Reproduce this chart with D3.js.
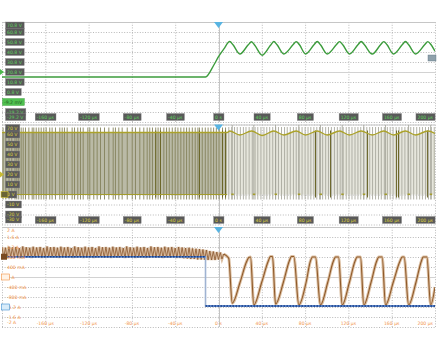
<!DOCTYPE html>
<html>
<head>
<meta charset="utf-8">
<script src="https://cdnjs.cloudflare.com/ajax/libs/d3/7.8.5/d3.min.js"></script>
<style>
body{margin:0;background:#fff;}
svg{display:block;font-family:"DejaVu Sans",sans-serif;}
</style>
</head>
<body>
<svg id="scope" width="438" height="346"></svg>
<script>
// time axis, µs
var timeTicks = [-200,-160,-120,-80,-40,0,40,80,120,160,200];
var timeLabels = ["","-160 µs","-120 µs","-80 µs","-40 µs","0 s","40 µs","80 µs","120 µs","160 µs","200 µs"];

// vertical divisions
var ch1Ticks = [70.8,60.8,50.8,40.8,30.8,20.8,10.8,0.8,-9.2,-19.2,-29.2];
var ch1Labels = ["70.8 V","60.8 V","50.8 V","40.8 V","30.8 V","20.8 V","10.8 V","0.8 V","-9.2 mV","-19.2 V","-29.2 V"];
var ch1RefIndex = 8; // channel reference level, drawn as green tag
var ch2Ticks = [70,60,50,40,30,20,10,0,-10,-20,-30];
var ch2Labels = ["70 V","60 V","50 V","40 V","30 V","20 V","10 V","0 V","-10 V","-20 V","-30 V"];
var ch3Ticks = [2,1.6,1.2,0.8,0.4,0,-0.4,-0.8,-1.2,-1.6,-2];
var ch3Labels = ["2 A","1.6 A","1.2 A","800 mA","400 mA","0 A","-400 mA","-800 mA","-1.2 A","-1.6 A","-2 A"];

// ch1 output voltage [µs, V]
var ch1Wave = [[-200,15.8],[-12,15.8],[-4.3,27.8],[0,36.1],[5,44],[10.4,51.3],[13.4,48],[19.7,38.8],[27.5,48],
  [30.5,51.1],[33.5,47.5],[40.4,37.6],[48,47.5],[51.1,51.3],[54.1,48],[60.3,38.8],[68.8,48],[71.8,51.2],[74.8,48],
  [80.4,38.8],[88.2,48],[91.2,51.3],[94.2,48],[100.4,38.8],[108.8,48],[111.8,51.2],[114.8,48],[121,38.8],
  [128.8,48],[131.8,51.3],[134.8,48],[142,38.8],[149.7,48],[152.7,51.2],[155.7,48],[161.7,38.8],[169.7,48],
  [172.7,51.3],[175.7,48],[182,38.8],[190.4,48],[193.4,51.2],[196.4,48],[200,41.5]];

// ch2 switch node: high level envelope [µs, V] and switching edges (µs)
var ch2Top = [[-200,62],[8,62],[10.4,63.5],[19.7,59.5],[30.5,63.5],[40.4,59],[51.1,63.5],[60.3,59.5],[71.8,63.5],
  [80.4,59.5],[91.2,63.5],[100.4,59.5],[111.8,63.5],[121,59.5],[131.8,63.5],[142,59.5],[152.7,63.5],[161.7,59.5],
  [172.7,63.5],[182,59.5],[193.4,63.5],[200,61]];
var ch2PreEdges = [-199,-196.5,-193.5,-191,-188,-186.3,-184.5,-182.3,-180.4,-178.3,-175.2,-172.1,-170.6,-168.4,-166,
  -163.8,-161.4,-159.2,-155.9,-153.7,-150.6,-146.6,-144.4,-142.3,-139.8,-135.2,-133,-130,-127.5,-125,-120.7,-118.9,
  -115.2,-112.1,-109,-105.3,-101.3,-97.3,-95.2,-92.1,-89,-84.3,-79.7,-76.7,-72.7,-69,-65.9,-63.5,-61,-58,-55.8,-53.6,
  -50.5,-48,-45.5,-42.7,-40,-37.5,-34.8,-32,-29.5,-27,-24.2,-21.5,-19,-17.6,-15,-12.2,-9.6,-7,-4.5,-2,0.5,3.7,6.5];
var ch2PostEdges = [9.5,12.2,14.8,17.3,20.2,23,25.4,28.3,31.2,33.8,36.3,39.2,42,44.6,47.3,50.1,52.8,55.4,58.2,61,
  63.5,66.3,69.2,71.8,74.4,77.2,80,82.7,85.3,88.1,90.8,93.4,96.2,99,101.6,104.3,107.1,109.8,112.4,115.2,118,120.6,
  123.3,126.1,128.8,131.4,134.2,137,139.7,142.3,145.1,147.8,150.4,153.2,156,158.6,161.3,164.1,166.8,169.4,172.2,
  175,177.6,180.3,183.1,185.8,188.4,191.2,194,196.6,199.3];
var ch2DarkEdges = [-58,-53.6,-17.6,3.7,6.5,89.6,103.5,137.7,164.5,166.3,193];
var ch2Spikes = [12.7,32.6,52.7,74.2,94.2,114.3,134.2,154.3,175.6,196];

// ch3 inductor current: pre-trigger ripple samples (A), 1.6 µs apart from -200 µs
var ch3RippleStart = -200, ch3RippleStep = 1.6;
var ch3Ripple = [1.2,0.78,1.17,0.76,1.21,0.8,1.18,0.77,1.2,0.79,
  1.16,0.76,1.22,0.78,1.19,0.8,1.17,0.76,1.21,0.78,
  1.18,0.79,1.2,0.76,1.16,0.78,1.22,0.8,1.19,0.77,
  1.2,0.78,1.17,0.76,1.21,0.79,1.18,0.77,1.2,0.8,
  1.16,0.76,1.22,0.78,1.19,0.8,1.17,0.76,1.21,0.78,
  1.18,0.79,1.2,0.76,1.16,0.78,1.22,0.8,1.19,0.77,
  1.2,0.78,1.17,0.76,1.21,0.79,1.18,0.77,1.2,0.8,
  1.16,0.76,1.22,0.78,1.19,0.8,1.17,0.76,1.21,0.78,
  1.18,0.79,1.2,0.76,1.16,0.78,1.22,0.8,1.19,0.77,
  1.2,0.78,1.17,0.76,1.21,0.79,1.18,0.77,1.2,0.8,
  1.16,0.76,1.2,0.76,1.18,0.75,1.16,0.74,1.17,0.72,
  1.14,0.72,1.13,0.7,1.12,0.7,1.1,0.69,1.08,0.68,
  1.04,0.68,1.02,0.68,1.0,0.7,0.98,0.72,0.92];
// ch3 after trigger [µs, A]
var ch3Post = [[4.8,0.92],[8.5,0.8],[9.5,0.74],[12.7,-1.05],[20,-0.2],[26,0.62],[28,0.78],[29.6,0.8],
  [32.6,-1.12],[40,-0.2],[46,0.64],[48,0.82],[49.9,0.82],[52.7,-1.08],[60,-0.2],[65.4,0.64],[67.4,0.82],[69.6,0.82],
  [74.2,-1.12],[81,-0.2],[84.8,0.62],[86.8,0.8],[89.6,0.8],[94.2,-1.12],[101,-0.2],[106,0.62],[108.1,0.8],[110.9,0.8],
  [114.3,-1.12],[121,-0.2],[126,0.62],[128.1,0.8],[131.2,0.8],[134.2,-1.12],[141,-0.2],[146,0.62],[148.1,0.8],[151.2,0.8],
  [154.3,-1.12],[161.5,-0.2],[167.5,0.62],[169.7,0.8],[171.5,0.8],[175.6,-1.12],[182.5,-0.2],[187.3,0.62],[189.1,0.8],
  [192.5,0.8],[196,-1.12],[200,-0.4]];
// ch4 current
var ch4Wave = [[-200,0.81],[-12,0.81],[-12,-1.16],[200,-1.16]];

var svg = d3.select("#scope");
var x = d3.scaleLinear().domain([-200,200]).range([2,435]);
var y1 = d3.scaleLinear().domain([-29.2,70.8]).range([122,22]);
var y2 = d3.scaleLinear().domain([-30,70]).range([224.5,124.5]);
var y3 = d3.scaleLinear().domain([-2,2]).range([327,227]);

function drawGrid(y, ticks, id){
  var top = y.range()[1], bot = y.range()[0];
  var g = svg.append("g");
  g.append("g").attr("transform","translate("+x.range()[0]+",0)")
    .call(d3.axisRight(y).tickValues(ticks).tickSize(x.range()[1]-x.range()[0]).tickFormat(""))
    .call(function(a){ a.select(".domain").remove();
      a.selectAll("line").attr("stroke","#b9b9b9").attr("stroke-dasharray","1,1.6"); });
  g.append("g").attr("transform","translate(0,"+bot+")")
    .call(d3.axisBottom(x).tickValues(timeTicks).tickSize(-(bot-top)).tickFormat(""))
    .call(function(a){ a.select(".domain").remove();
      a.selectAll("line").attr("stroke","#b9b9b9").attr("stroke-dasharray","1,1.6"); });
  // centre cross + top edge solid
  g.append("line").attr("x1",x(-200)).attr("x2",x(200)).attr("y1",Math.round(y(ticks[5]))+0.5).attr("y2",Math.round(y(ticks[5]))+0.5)
    .attr("stroke","#d2d2d2");
  g.append("line").attr("x1",Math.round(x(0))+0.5).attr("x2",Math.round(x(0))+0.5).attr("y1",top).attr("y2",bot)
    .attr("stroke","#c4c4c4");
  g.append("line").attr("x1",x(-200)).attr("x2",x(200)).attr("y1",top+0.5).attr("y2",top+0.5).attr("stroke","#c6c6c6");
  svg.append("clipPath").attr("id",id).append("rect")
    .attr("x",x(-200)).attr("y",top).attr("width",x(200)-x(-200)).attr("height",bot-top);
}

function trigMark(y){
  var top = y.range()[1], cx = x(0);
  svg.append("path").attr("d","M"+(cx-4.5)+","+top+"L"+(cx+4.5)+","+top+"L"+cx+","+(top+6)+"Z").attr("fill","#58b4e2");
}

function boxText(tx, ty, txt, col, bg, anchor, edge){
  var g = svg.append("g");
  var r = g.append("rect");
  var t = g.append("text").attr("x",tx).attr("y",ty).attr("font-size",4.6).attr("fill",col)
    .attr("text-anchor",anchor||"start").attr("dominant-baseline","central").text(txt);
  if(bg){
    var b = t.node().getBBox();
    r.attr("x",b.x-1.5).attr("y",ty-3.5).attr("width",b.width+3).attr("height",7)
      .attr("fill",bg).attr("stroke",edge||"#8a8a8a").attr("stroke-width",0.4);
  } else r.remove();
  return g;
}

function valueLabels(y, ticks, labels, col, bg, refIndex){
  var top = y.range()[1], bot = y.range()[0];
  ticks.forEach(function(v,i){
    var ly = Math.max(top+3.5, Math.min(bot-5, y(v)));
    if(i === refIndex) boxText(4, ly, labels[i], "#245a24", "#4fc04f", "start", "#3a9a3a");
    else boxText(7, ly, labels[i], col, bg);
  });
}

function timeRow(yc, col, bg){
  timeTicks.forEach(function(t,i){
    if(!timeLabels[i]) return;
    var last = i == timeTicks.length-1;
    boxText(last ? x(t)-2 : x(t), yc, timeLabels[i], col, bg, last ? "end" : "middle");
  });
}

drawGrid(y1,ch1Ticks,"c1");
drawGrid(y2,ch2Ticks,"c2");
drawGrid(y3,ch3Ticks,"c3");

var lineT = d3.line().x(function(d){return x(d[0]);});

// ---- panel 1
svg.append("path").datum(ch1Wave).attr("clip-path","url(#c1)")
  .attr("d", lineT.y(function(d){return y1(d[1]);}).curve(d3.curveMonotoneX))
  .attr("fill","none").attr("stroke","#3c9c3c").attr("stroke-width",1.4);

// ---- panel 2
var p2 = svg.append("g").attr("clip-path","url(#c2)");
var area2 = d3.area().x(function(d){return x(d[0]);}).y0(y2(0)).y1(function(d){return y2(d[1]);});
p2.append("path").datum(ch2Top.filter(function(d){return d[0]<=8;})).attr("d",area2).attr("fill","#babaa6");
p2.append("path").datum(ch2Top.filter(function(d){return d[0]>=8;})).attr("d",area2).attr("fill","#e6e6dc");
p2.selectAll("line.pre").data(ch2PreEdges).enter().append("line")
  .attr("x1",function(d){return x(d);}).attr("x2",function(d){return x(d);})
  .attr("y1",y2(67)).attr("y2",y2(-5)).attr("stroke","#85825c").attr("stroke-width",0.9);
p2.selectAll("line.post").data(ch2PostEdges).enter().append("line")
  .attr("x1",function(d){return x(d);}).attr("x2",function(d){return x(d);})
  .attr("y1",y2(67.5)).attr("y2",y2(-5)).attr("stroke","#a9a99e").attr("stroke-width",0.9);
p2.selectAll("line.dark").data(ch2DarkEdges).enter().append("line")
  .attr("x1",function(d){return x(d);}).attr("x2",function(d){return x(d);})
  .attr("y1",y2(64)).attr("y2",y2(-3)).attr("stroke","#6b6628").attr("stroke-width",1);
p2.selectAll("line.spk").data(ch2Spikes).enter().append("line")
  .attr("x1",function(d){return x(d);}).attr("x2",function(d){return x(d);})
  .attr("y1",y2(69.5)).attr("y2",y2(-5)).attr("stroke","#9f9f96").attr("stroke-width",0.8);
p2.append("path").datum(ch2Top).attr("d", lineT.y(function(d){return y2(d[1]);}).curve(d3.curveMonotoneX))
  .attr("fill","none").attr("stroke","#aba22a").attr("stroke-width",1.4);
p2.append("line").attr("x1",x(-200)).attr("x2",x(8)).attr("y1",y2(0)).attr("y2",y2(0))
  .attr("stroke","#a39c2c").attr("stroke-width",1.1);
p2.selectAll("rect.dot").data(ch2Spikes).enter().append("rect")
  .attr("x",function(d){return x(d)-1;}).attr("y",y2(0)-1).attr("width",2.5).attr("height",1.6).attr("fill","#a39c2c");

// ---- panel 3
var p3 = svg.append("g").attr("clip-path","url(#c3)");
var ripple = ch3Ripple.map(function(v,i){ return [ch3RippleStart + i*ch3RippleStep, v]; });
var l3 = d3.line().x(function(d){return x(d[0]);}).y(function(d){return y3(d[1]);});
p3.append("path").datum(ripple).attr("d",l3).attr("fill","none").attr("stroke","#dcc0a4").attr("stroke-width",3);
p3.append("path").datum(ch3Post).attr("d",l3.curve(d3.curveMonotoneX)).attr("fill","none")
  .attr("stroke","#dcc0a4").attr("stroke-width",3);
p3.append("path").datum(ripple).attr("d",l3.curve(d3.curveLinear)).attr("fill","none").attr("stroke","#8a5830").attr("stroke-width",0.8);
p3.append("path").datum(ch3Post).attr("d",l3.curve(d3.curveMonotoneX)).attr("fill","none")
  .attr("stroke","#8f5a2a").attr("stroke-width",1.1);
l3.curve(d3.curveLinear);
p3.append("path").datum(ch4Wave).attr("d",l3).attr("fill","none")
  .attr("stroke","#9fb3d2").attr("stroke-width",1.6);
[ch4Wave.slice(0,2), ch4Wave.slice(2)].forEach(function(seg){
  p3.append("path").datum(seg).attr("d",l3).attr("fill","none")
    .attr("stroke","#3f72c4").attr("stroke-width",1.6);
  p3.append("path").datum(seg).attr("d",l3).attr("fill","none")
    .attr("stroke","#1b3f86").attr("stroke-width",1.6).attr("stroke-dasharray","1.5,1.5");
});

// ---- trigger marks
trigMark(y1); trigMark(y2); trigMark(y3);

// ---- labels
valueLabels(y1, ch1Ticks, ch1Labels, "#5fd05f", "#595959", ch1RefIndex);
valueLabels(y2, ch2Ticks, ch2Labels, "#dccf3c", "#595959");
valueLabels(y3, ch3Ticks, ch3Labels, "#f2964c", null);
timeRow(117, "#5fd05f", "#595959");
timeRow(220, "#dccf3c", "#595959");
timeRow(323, "#f2964c", null);

// channel markers
svg.append("path").attr("d","M0,"+(y1(20.8)-3)+"L4,"+y1(20.8)+"L0,"+(y1(20.8)+3)+"Z").attr("fill","#4cb84c");
svg.append("rect").attr("x",428).attr("y",55).attr("width",8).attr("height",6)
  .attr("fill","#8fa1ab").attr("stroke","#5d7280").attr("stroke-width",0.4);
svg.append("path").attr("d","M0,"+(y2(20)-3)+"L4,"+y2(20)+"L0,"+(y2(20)+3)+"Z").attr("fill","#c8bb32");
svg.append("rect").attr("x",1).attr("y",y2(0)-3).attr("width",7).attr("height",6)
  .attr("fill","#6a6436").attr("stroke","#d8c838").attr("stroke-width",0.6);
svg.append("rect").attr("x",1).attr("y",y3(0.81)-3).attr("width",6).attr("height",6).attr("fill","#7a4a22");
svg.append("rect").attr("x",1.5).attr("y",y3(0)-3).attr("width",8).attr("height",6)
  .attr("fill","#fff3e6").attr("stroke","#f09040").attr("stroke-width",0.6);
svg.append("rect").attr("x",1.5).attr("y",y3(-1.2)-3).attr("width",8).attr("height",6)
  .attr("fill","#d8ecfa").attr("stroke","#3c8ed0").attr("stroke-width",0.6);
</script>
</body>
</html>
